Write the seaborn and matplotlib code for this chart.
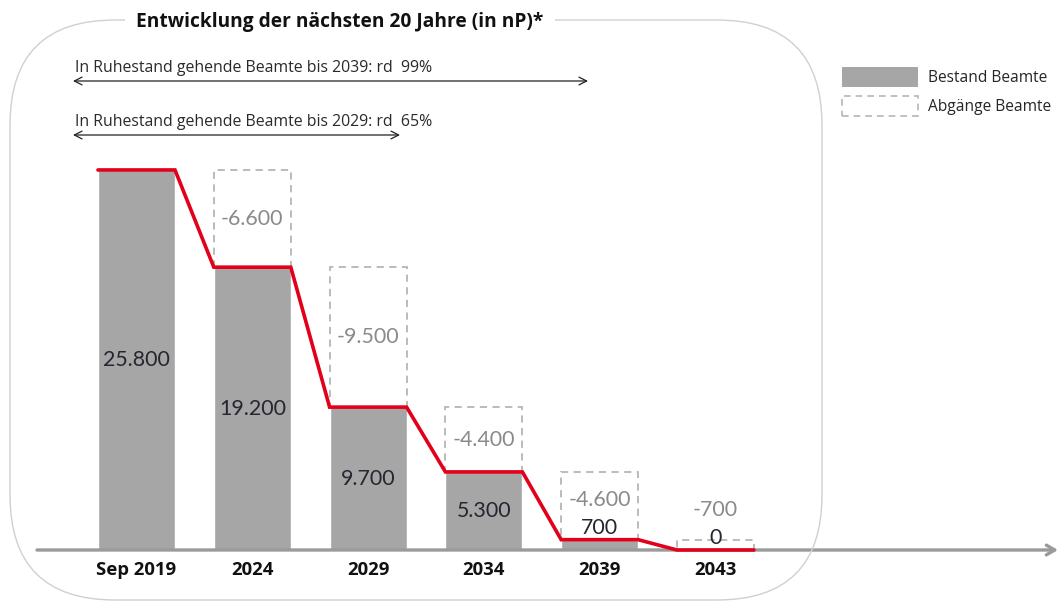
import numpy as np
import pandas as pd
import matplotlib
matplotlib.use("Agg")
import matplotlib.pyplot as plt
import seaborn as sns
from matplotlib.patches import FancyBboxPatch, Patch

# ---- data ----
categories = ["Sep 2019", "2024", "2029", "2034", "2039", "2043"]
bestand = [25800, 19200, 9700, 5300, 700, 0]
abgaenge = [0, 6600, 9500, 4400, 4600, 700]
bestand_labels = ["25.800", "19.200", "9.700", "5.300", "700", "0"]
abgaenge_labels = ["", "-6.600", "-9.500", "-4.400", "-4.600", "-700"]
title = "Entwicklung der nächsten 20 Jahre (in nP)*"
arrow_texts = ["In Ruhestand gehende Beamte bis 2039: rd  99%",
               "In Ruhestand gehende Beamte bis 2029: rd  65%"]
legend_labels = ["Bestand Beamte", "Abgänge Beamte"]

sns.set_style("white")
plt.rcParams["font.family"] = ["Open Sans", "DejaVu Sans"]
num_font = ["Lato", "DejaVu Sans"]

W, H = 1060, 603
fig = plt.figure(figsize=(W / 100, H / 100), dpi=100)
fig.patch.set_facecolor("white")
ax = fig.add_axes([0, 53 / H, 1, 550 / H])
ax.patch.set_visible(False)

df = pd.DataFrame({"Jahr": categories, "Bestand": bestand})
bw = 0.665
sns.barplot(data=df, x="Jahr", y="Bestand", order=categories, color="#a6a6a6",
            saturation=1, width=bw, ax=ax, zorder=2)

x = np.arange(len(categories))
# dashed "Abgänge" boxes
ax.bar(x[1:], abgaenge[1:], bottom=bestand[1:], width=bw, fill=False,
       edgecolor="#b5b5b5", linestyle=(0, (4, 3)), linewidth=1.3, zorder=2)

# red stepped line
lx, ly = [], []
for i, v in enumerate(bestand):
    lx += [i - bw / 2, i + bw / 2]
    ly += [v, v]
ax.plot(lx, ly, color="#e2001a", lw=2.6, zorder=4, clip_on=False,
        solid_joinstyle="miter")

# labels
for i, (b, a) in enumerate(zip(bestand, abgaenge)):
    by = b / 2 if b >= 3000 else b + 800
    ax.text(i, by, bestand_labels[i], ha="center", va="center", fontsize=15.4,
            color="#262630", family=num_font, zorder=5)
    if a:
        ay = max(b + a / 2, by + 1900)
        ax.text(i, ay, abgaenge_labels[i], ha="center", va="center",
                fontsize=15.4, color="#8a8a8a", family=num_font, zorder=5)

ax.set_xlim(-136.5 / 115.8, (W - 136.5) / 115.8)
ax.set_ylim(0, 550 / 0.01473)
ax.set_xlabel("")
ax.set_ylabel("")
ax.set_yticks([])
ax.set_xticks(x)
ax.set_xticklabels(categories, fontweight="bold", fontsize=13.3, color="#111111")
ax.tick_params(axis="x", length=0, pad=8)
for s in ax.spines.values():
    s.set_visible(False)

# baseline arrow
ax.annotate("", xy=(1058, 53), xytext=(37, 53), xycoords="figure pixels",
            textcoords="figure pixels",
            arrowprops=dict(arrowstyle="->,head_length=0.6,head_width=0.35",
                            color="#9a9a9a", lw=2.4, shrinkA=0, shrinkB=0))

# rounded frame
frame = FancyBboxPatch((0.10, 0.03), 8.12, 5.80,
                       boxstyle="round,pad=0,rounding_size=1.05",
                       transform=fig.dpi_scale_trans, fill=False,
                       edgecolor="#d0d0d0", lw=1.0, zorder=0.5)
fig.add_artist(frame)

fig.text(340 / W, (H - 22) / H, title, ha="center", va="center", fontsize=13.8,
         fontweight="bold", color="#111111",
         bbox=dict(facecolor="white", edgecolor="none", pad=8), zorder=3)

# time-span arrows
for txt, ty, x1 in [(arrow_texts[0], 81, 588), (arrow_texts[1], 135, 400)]:
    ax.annotate("", xy=(x1, H - ty), xytext=(73, H - ty), xycoords="figure pixels",
                textcoords="figure pixels",
                arrowprops=dict(arrowstyle="<->,head_length=0.55,head_width=0.28",
                                color="#222222", lw=0.9, shrinkA=0, shrinkB=0))
    fig.text(75 / W, (H - ty + 13) / H, txt, ha="left", va="center", fontsize=11.4,
             color="#2a2a2a")

# legend
handles = [Patch(facecolor="#a6a6a6", edgecolor="none"),
           Patch(facecolor="white", edgecolor="#b5b5b5", linestyle=(0, (4, 3)), lw=1.2)]
fig.legend(handles, legend_labels, loc="upper left",
           bbox_to_anchor=(842 / W, (H - 67) / H), frameon=False, fontsize=11.2,
           handlelength=4.9, handleheight=1.6, handletextpad=0.65,
           labelspacing=0.6, borderpad=0, borderaxespad=0)

fig.savefig("out.png", dpi=100, facecolor="white")
